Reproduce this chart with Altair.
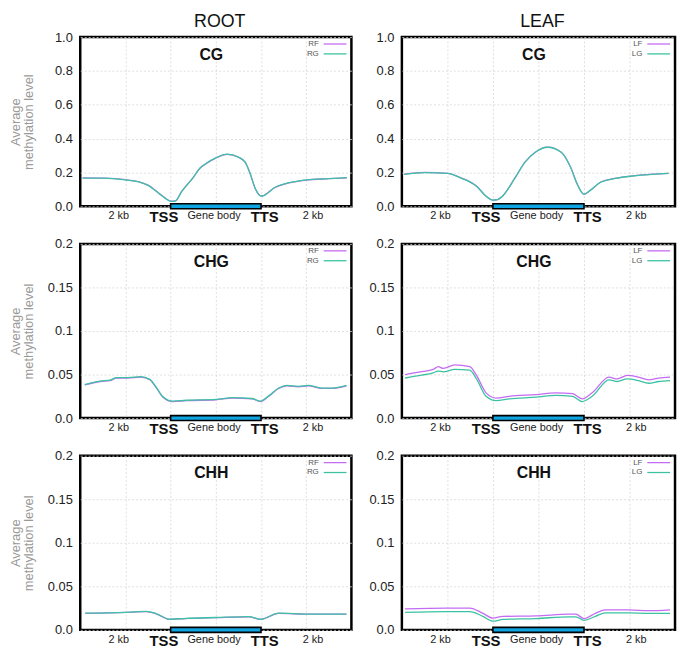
import altair as alt
import pandas as pd

# ---------------- data ----------------
root_cg_x = [0.05, 0.5, 1.0, 1.3, 1.5, 1.75, 1.9, 2.0, 2.1, 2.25, 2.5, 2.65, 2.8, 3.0, 3.25, 3.5,
             3.65, 3.75, 3.88, 4.0, 4.05, 4.15, 4.3, 4.5, 4.75, 5.0, 5.5, 5.9]
root_cg_rf = [0.168, 0.166, 0.157, 0.145, 0.125, 0.075, 0.045, 0.030, 0.032, 0.090, 0.170, 0.225,
              0.255, 0.285, 0.307, 0.290, 0.260, 0.200, 0.100, 0.062, 0.063, 0.080, 0.110, 0.130,
              0.145, 0.155, 0.163, 0.168]
root_cg_rg = [0.167, 0.166, 0.156, 0.144, 0.124, 0.074, 0.044, 0.029, 0.031, 0.089, 0.171, 0.226,
              0.256, 0.286, 0.308, 0.291, 0.261, 0.201, 0.101, 0.061, 0.062, 0.079, 0.111, 0.131,
              0.146, 0.156, 0.164, 0.169]

leaf_cg_x = [0.05, 0.5, 1.0, 1.3, 1.65, 1.85, 2.0, 2.1, 2.2, 2.5, 2.7, 2.93, 3.2, 3.5, 3.7, 3.86,
             4.0, 4.14, 4.36, 4.7, 5.07, 5.5, 5.86]
leaf_cg_lf = [0.190, 0.200, 0.195, 0.168, 0.117, 0.060, 0.037, 0.040, 0.058, 0.175, 0.260, 0.320,
              0.350, 0.320, 0.235, 0.127, 0.072, 0.095, 0.142, 0.166, 0.180, 0.190, 0.195]
leaf_cg_lg = [0.189, 0.199, 0.194, 0.167, 0.116, 0.059, 0.036, 0.039, 0.057, 0.174, 0.259, 0.319,
              0.349, 0.319, 0.234, 0.126, 0.071, 0.094, 0.141, 0.165, 0.179, 0.189, 0.194]

root_chg_x = [0.1, 0.44, 0.66, 0.8, 1.05, 1.34, 1.54, 1.68, 1.83, 2.05, 2.34, 3.0, 3.37, 3.8, 3.99,
              4.17, 4.39, 4.57, 4.83, 5.05, 5.34, 5.56, 5.89]
root_chg_rf = [0.038, 0.042, 0.043, 0.046, 0.046, 0.047, 0.044, 0.035, 0.024, 0.019, 0.020, 0.021,
               0.023, 0.022, 0.019, 0.025, 0.034, 0.037, 0.036, 0.037, 0.034, 0.034, 0.037]
root_chg_rg = [0.0385, 0.0425, 0.0435, 0.0465, 0.0465, 0.0475, 0.0445, 0.0355, 0.0245, 0.0195,
               0.0205, 0.0215, 0.0235, 0.0225, 0.0195, 0.0255, 0.0345, 0.0375, 0.0365, 0.0375,
               0.0345, 0.0345, 0.0375]

leaf_chg_x = [0.07, 0.4, 0.69, 0.8, 0.91, 1.16, 1.49, 1.64, 1.85, 2.07, 2.36, 2.95, 3.38, 3.75,
              3.96, 4.18, 4.55, 4.73, 4.95, 5.2, 5.42, 5.64, 5.89]
leaf_chg_lf = [0.050, 0.053, 0.056, 0.059, 0.057, 0.061, 0.059, 0.049, 0.029, 0.023, 0.025, 0.027,
               0.029, 0.028, 0.022, 0.029, 0.047, 0.045, 0.049, 0.047, 0.044, 0.046, 0.047]
leaf_chg_lg = [0.046, 0.049, 0.052, 0.054, 0.053, 0.056, 0.055, 0.045, 0.025, 0.020, 0.022, 0.024,
               0.026, 0.025, 0.019, 0.025, 0.044, 0.042, 0.045, 0.043, 0.040, 0.042, 0.043]

root_chh_x = [0.11, 1.02, 1.46, 1.68, 1.98, 2.34, 3.0, 3.73, 3.99, 4.39, 5.05, 5.89]
root_chh_rf = [0.019, 0.020, 0.021, 0.0185, 0.012, 0.013, 0.014, 0.015, 0.012, 0.019, 0.018, 0.018]
root_chh_rg = [0.0192, 0.0202, 0.0212, 0.0187, 0.0122, 0.0132, 0.0142, 0.0152, 0.0122, 0.0192,
               0.0182, 0.0182]

leaf_chh_x = [0.07, 0.98, 1.49, 1.78, 2.0, 2.22, 2.95, 3.67, 3.82, 4.0, 4.25, 4.47, 4.98, 5.42, 5.89]
leaf_chh_lf = [0.024, 0.025, 0.025, 0.019, 0.0135, 0.0155, 0.016, 0.018, 0.018, 0.013, 0.019,
               0.023, 0.023, 0.022, 0.023]
leaf_chh_lg = [0.020, 0.021, 0.021, 0.0155, 0.010, 0.012, 0.013, 0.015, 0.015, 0.011, 0.0155,
               0.0195, 0.0195, 0.019, 0.019]

normal_labels = ["2 kb", "Gene body", "2 kb"]
normal_label_x = [0.85, 2.96, 5.15]
bold_labels = ["TSS", "TTS"]
bold_label_x = [1.85, 4.08]
gene_start, gene_end = [2], [4]

cg_ticks = [0, 0.2, 0.4, 0.6, 0.8, 1.0]
ch_ticks = [0, 0.05, 0.1, 0.15, 0.2]

PURPLE = "#c46cf2"
TEAL = "#3cc2a2"
FONT = "Liberation Sans"


def panel(x, a, b, names, title, ymax, yvals, w, h, first_col, col_title=None):
    df = pd.DataFrame({"x": x + x, "v": a + b,
                       "s": [names[0]] * len(x) + [names[1]] * len(x)})
    xs = alt.Scale(domain=[0, 6], nice=False, zero=False)
    ys = alt.Scale(domain=[0, ymax], nice=False)
    if ymax == 1:
        lab = "format(datum.value, '.1f')"
    else:
        lab = "datum.value === 0 ? '0.0' : toString(datum.value)"
    ytitle = ["Average", "methylation level"] if first_col else None
    yaxis = alt.Axis(values=yvals, labelExpr=lab, grid=True, gridDash=[2, 2],
                     gridColor="#d6d6d6", gridWidth=0.8, ticks=False, domain=False,
                     labelFontSize=13, labelColor="#222222", labelPadding=8,
                     minExtent=30, maxExtent=30, title=ytitle, titleColor="#999999",
                     titleFontSize=13, titleFontWeight="normal", titleLineHeight=13,
                     titlePadding=15, labelFont=FONT, titleFont=FONT)
    xaxis = alt.Axis(values=[1, 2, 3, 4, 5], labels=False, ticks=False, domain=False,
                     grid=True, gridDash=[2, 2], gridColor="#d6d6d6", gridWidth=0.8,
                     title=None)
    lines = alt.Chart(df).mark_line(strokeWidth=1.3, interpolate="monotone").encode(
        x=alt.X("x:Q", scale=xs, axis=xaxis),
        y=alt.Y("v:Q", scale=ys, axis=yaxis),
        color=alt.Color("s:N", scale=alt.Scale(domain=names, range=[PURPLE, TEAL]),
                        legend=None),
    )
    gdf = pd.DataFrame({"x": gene_start, "x2": gene_end})
    gene = alt.Chart(gdf).mark_rect(fill="#0ea5e2", stroke="black", strokeWidth=1.6).encode(
        x=alt.X("x:Q", scale=xs), x2="x2:Q",
        y=alt.value(h - 2.5), y2=alt.value(h + 2.5))
    ndf = pd.DataFrame({"x": normal_label_x, "t": normal_labels})
    ntext = alt.Chart(ndf).mark_text(fontSize=11, font=FONT, color="#222222",
                                     baseline="middle").encode(
        x=alt.X("x:Q", scale=xs), y=alt.value(h + 10), text="t:N")
    bdf = pd.DataFrame({"x": bold_label_x, "t": bold_labels})
    btext = alt.Chart(bdf).mark_text(fontSize=15, font=FONT, fontWeight="bold",
                                     color="#111111", baseline="middle").encode(
        x=alt.X("x:Q", scale=xs), y=alt.value(h + 11), text="t:N")
    tdf = pd.DataFrame({"x": [2.9], "t": [title]})
    ttext = alt.Chart(tdf).mark_text(fontSize=16, font=FONT, fontWeight="bold",
                                     color="#111111", baseline="middle").encode(
        x=alt.X("x:Q", scale=xs), y=alt.value(18), text="t:N")
    layers = [lines, gene, ntext, btext, ttext]
    for i, (nm, col) in enumerate(zip(names, [PURPLE, TEAL])):
        yy = 7 + 10 * i
        ldf = pd.DataFrame({"t": [nm]})
        layers.append(alt.Chart(ldf).mark_text(fontSize=8, font=FONT, color="#555555",
                                               align="right", baseline="middle").encode(
            x=alt.value(w - 33), y=alt.value(yy), text="t:N"))
        layers.append(alt.Chart(ldf).mark_rule(color=col, strokeWidth=1.3).encode(
            x=alt.value(w - 28), x2=alt.value(w - 5), y=alt.value(yy)))
    if col_title:
        cdf = pd.DataFrame({"t": [col_title]})
        layers.append(alt.Chart(cdf).mark_text(fontSize=18, font=FONT, color="#111111",
                                               baseline="alphabetic").encode(
            x=alt.value(w / 2 + 4), y=alt.value(-10), text="t:N"))
    return alt.layer(*layers).properties(width=w, height=h)


R = ["RF", "RG"]
L = ["LF", "LG"]
p1 = panel(root_cg_x, root_cg_rf, root_cg_rg, R, "CG", 1, cg_ticks, 274, 171, True, "ROOT")
p2 = panel(leaf_cg_x, leaf_cg_lf, leaf_cg_lg, L, "CG", 1, cg_ticks, 276, 171, False, "LEAF")
p3 = panel(root_chg_x, root_chg_rf, root_chg_rg, R, "CHG", 0.2, ch_ticks, 274, 176, True)
p4 = panel(leaf_chg_x, leaf_chg_lf, leaf_chg_lg, L, "CHG", 0.2, ch_ticks, 276, 176, False)
p5 = panel(root_chh_x, root_chh_rf, root_chh_rg, R, "CHH", 0.2, ch_ticks, 274, 176, True)
p6 = panel(leaf_chh_x, leaf_chh_lf, leaf_chh_lg, L, "CHH", 0.2, ch_ticks, 276, 176, False)

chart = alt.concat(p1, p2, p3, p4, p5, p6, columns=2,
                   spacing={"row": 38, "column": 51}, bounds="flush").properties(
    padding={"left": 0, "top": 0, "right": 0, "bottom": 0}
).configure_view(stroke="black", strokeWidth=2.5)

chart.save("out.html", embed_options={"renderer": "svg", "actions": False})
